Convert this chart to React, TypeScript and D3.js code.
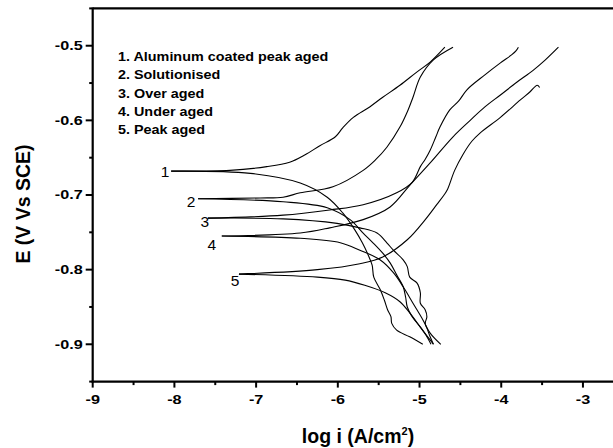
import React from "react";
import * as d3 from "d3";

const W = 613;
const H = 448;

const xTicks = [-9, -8, -7, -6, -5, -4, -3];
const xMinorTicks = [-8.5, -7.5, -6.5, -5.5, -4.5, -3.5, -2.5];
const yTicks = [-0.5, -0.6, -0.7, -0.8, -0.9];
const yMinorTicks = [-0.45, -0.55, -0.65, -0.75, -0.85, -0.95];

const legendItems = [
  "1. Aluminum coated peak aged",
  "2. Solutionised",
  "3. Over aged",
  "4. Under aged",
  "5. Peak aged",
];
const curveLabels = ["1", "2", "3", "4", "5"];

// [log i, E] anodic branches (from Ecorr upward)
const anodic1 = [[-8.04,-0.668],[-7.32,-0.667],[-6.87,-0.662],[-6.59,-0.656],[-6.40,-0.646],[-6.22,-0.634],[-6.03,-0.622],[-5.94,-0.610],[-5.81,-0.596],[-5.61,-0.582],[-5.45,-0.569],[-5.24,-0.553],[-5.03,-0.535],[-4.87,-0.522],[-4.69,-0.502]];
const anodic2 = [[-7.71,-0.705],[-6.95,-0.704],[-6.67,-0.703],[-6.46,-0.697],[-6.06,-0.689],[-5.69,-0.667],[-5.54,-0.653],[-5.40,-0.636],[-5.24,-0.609],[-5.14,-0.586],[-5.08,-0.569],[-4.99,-0.542],[-4.83,-0.519],[-4.59,-0.502]];
const anodic3 = [[-7.59,-0.731],[-6.67,-0.727],[-6.10,-0.720],[-5.69,-0.713],[-5.28,-0.697],[-5.09,-0.683],[-4.99,-0.662],[-4.93,-0.652],[-4.87,-0.640],[-4.80,-0.622],[-4.75,-0.609],[-4.63,-0.586],[-4.52,-0.574],[-4.42,-0.559],[-4.20,-0.539],[-4.01,-0.523],[-3.87,-0.512],[-3.82,-0.507],[-3.79,-0.502]];
const anodic4 = [[-7.42,-0.755],[-6.46,-0.751],[-6.10,-0.744],[-5.69,-0.733],[-5.36,-0.716],[-5.12,-0.687],[-4.87,-0.657],[-4.59,-0.622],[-4.38,-0.600],[-4.20,-0.582],[-4.01,-0.566],[-3.81,-0.549],[-3.61,-0.533],[-3.46,-0.519],[-3.30,-0.502]];
const anodic5 = [[-7.21,-0.806],[-6.25,-0.800],[-5.73,-0.792],[-5.45,-0.783],[-5.15,-0.760],[-4.93,-0.733],[-4.79,-0.713],[-4.70,-0.700],[-4.66,-0.693],[-4.57,-0.667],[-4.47,-0.646],[-4.36,-0.628],[-4.26,-0.617],[-4.01,-0.596],[-3.77,-0.573],[-3.65,-0.562],[-3.56,-0.553],[-3.53,-0.556]];

// [log i, E] cathodic branches (from Ecorr downward)
const cathodic1 = [[-8.04,-0.668],[-7.07,-0.671],[-6.46,-0.684],[-6.13,-0.703],[-5.94,-0.724],[-5.79,-0.747],[-5.70,-0.764],[-5.63,-0.780],[-5.58,-0.794],[-5.56,-0.810],[-5.48,-0.827],[-5.43,-0.841],[-5.39,-0.854],[-5.35,-0.863],[-5.34,-0.872],[-5.28,-0.881],[-5.12,-0.890],[-4.96,-0.900]];
const cathodic2 = [[-7.71,-0.705],[-6.67,-0.709],[-6.13,-0.717],[-5.85,-0.733],[-5.69,-0.751],[-5.57,-0.764],[-5.45,-0.778],[-5.36,-0.791],[-5.28,-0.807],[-5.20,-0.823],[-5.17,-0.837],[-5.15,-0.850],[-5.09,-0.863],[-4.99,-0.877],[-4.92,-0.888],[-4.86,-0.900]];
const cathodic3 = [[-7.59,-0.731],[-6.67,-0.732],[-6.01,-0.738],[-5.73,-0.744],[-5.52,-0.751],[-5.40,-0.764],[-5.32,-0.774],[-5.20,-0.787],[-5.15,-0.796],[-5.12,-0.810],[-5.03,-0.818],[-4.99,-0.831],[-4.99,-0.845],[-4.93,-0.854],[-4.91,-0.863],[-4.93,-0.872],[-4.90,-0.881],[-4.87,-0.890],[-4.83,-0.900]];
const cathodic4 = [[-7.42,-0.755],[-6.46,-0.758],[-5.97,-0.764],[-5.73,-0.774],[-5.48,-0.787],[-5.32,-0.804],[-5.20,-0.823],[-5.08,-0.845],[-4.96,-0.867],[-4.87,-0.885],[-4.74,-0.900]];
const cathodic5 = [[-7.21,-0.806],[-6.25,-0.810],[-5.91,-0.814],[-5.67,-0.821],[-5.42,-0.831],[-5.24,-0.843],[-5.12,-0.858],[-4.99,-0.877],[-4.90,-0.890],[-4.83,-0.900]];

const anodic = [anodic1, anodic2, anodic3, anodic4, anodic5];
const cathodic = [cathodic1, cathodic2, cathodic3, cathodic4, cathodic5];

const x = d3.scaleLinear().domain([-9, -2.5]).range([92.7, 623.8]);
const y = d3.scaleLinear().domain([-0.95, -0.45]).range([381.6, 8.4]);

const line = d3
  .line<number[]>()
  .x((d) => x(d[0]))
  .y((d) => y(d[1]))
  .curve(d3.curveCatmullRom.alpha(0.5));

const FONT = "'Liberation Sans', Arial, sans-serif";

// curve label offsets relative to Ecorr point (pixels)
const labelOffsets = [
  [-6, 6],
  [-7, 8],
  [-3, 9],
  [-10, 14],
  [-4, 12],
];

export default function App() {
  const left = x(-9);
  const bottom = y(-0.95);
  const top = y(-0.45);
  const right = x(-2.5);
  return (
    <svg
      width={W}
      height={H}
      style={{ position: "absolute", left: 0, top: 0, background: "#fff" }}
      fontFamily={FONT}
    >
      <rect x={0} y={0} width={W} height={H} fill="#fff" />
      {/* curves */}
      <g fill="none" stroke="#000" strokeWidth={1.1}>
        {anodic.map((d, i) => (
          <path key={"a" + i} d={line(d as any) || ""} />
        ))}
        {cathodic.map((d, i) => (
          <path key={"c" + i} d={line(d as any) || ""} />
        ))}
      </g>
      {/* frame */}
      <g stroke="#000" strokeWidth={2.2} fill="none">
        <line x1={left} x2={right} y1={top} y2={top} />
        <line x1={right} x2={right} y1={top} y2={bottom} />
        <line x1={left} x2={left} y1={top - 1} y2={bottom + 1} />
        <line x1={left - 1} x2={right} y1={bottom} y2={bottom} />
      </g>
      {/* ticks */}
      <g stroke="#000" strokeWidth={2}>
        {yTicks.map((t) => (
          <line key={t} x1={left - 7} x2={left} y1={y(t)} y2={y(t)} />
        ))}
        {yMinorTicks.map((t) => (
          <line key={t} x1={left - 3.5} x2={left} y1={y(t)} y2={y(t)} />
        ))}
        {xTicks.map((t) => (
          <line key={t} x1={x(t)} x2={x(t)} y1={bottom} y2={bottom + 6} />
        ))}
        {xMinorTicks.map((t) => (
          <line key={t} x1={x(t)} x2={x(t)} y1={bottom} y2={bottom + 3.5} />
        ))}
      </g>
      {/* tick labels */}
      <g fontWeight="bold" fontSize={12} fill="#000">
        {yTicks.map((t) => (
          <text
            key={t}
            transform={`translate(${left - 10},${y(t) + 4.3}) scale(1.35,1)`}
            textAnchor="end"
          >
            {d3.format(".1f")(t).replace("−", "-")}
          </text>
        ))}
        {xTicks.map((t) => (
          <text
            key={t}
            transform={`translate(${x(t)},${bottom + 22.5}) scale(1.35,1)`}
            textAnchor="middle"
          >
            {String(t)}
          </text>
        ))}
      </g>
      {/* axis titles */}
      <text
        x={358}
        y={443}
        textAnchor="middle"
        fontWeight="bold"
        fontSize={19.5}
      >
        log i (A/cm
        <tspan fontSize={11} dy={-8}>
          2
        </tspan>
        <tspan dy={8}>)</tspan>
      </text>
      <text
        transform="translate(29.5,204) rotate(-90)"
        textAnchor="middle"
        fontWeight="bold"
        fontSize={19.5}
      >
        E (V Vs SCE)
      </text>
      {/* legend */}
      <g fontWeight="bold" fontSize={12.5}>
        {legendItems.map((s, i) => (
          <text
            key={s}
            transform={`translate(118,${60.7 + i * 18.4}) scale(1.15,1)`}
          >
            {s}
          </text>
        ))}
      </g>
      {/* curve labels */}
      <g fontSize={15.5}>
        {curveLabels.map((s, i) => (
          <text
            key={s}
            x={x(anodic[i][0][0]) + labelOffsets[i][0]}
            y={y(anodic[i][0][1]) + labelOffsets[i][1]}
            textAnchor="middle"
          >
            {s}
          </text>
        ))}
      </g>
    </svg>
  );
}
